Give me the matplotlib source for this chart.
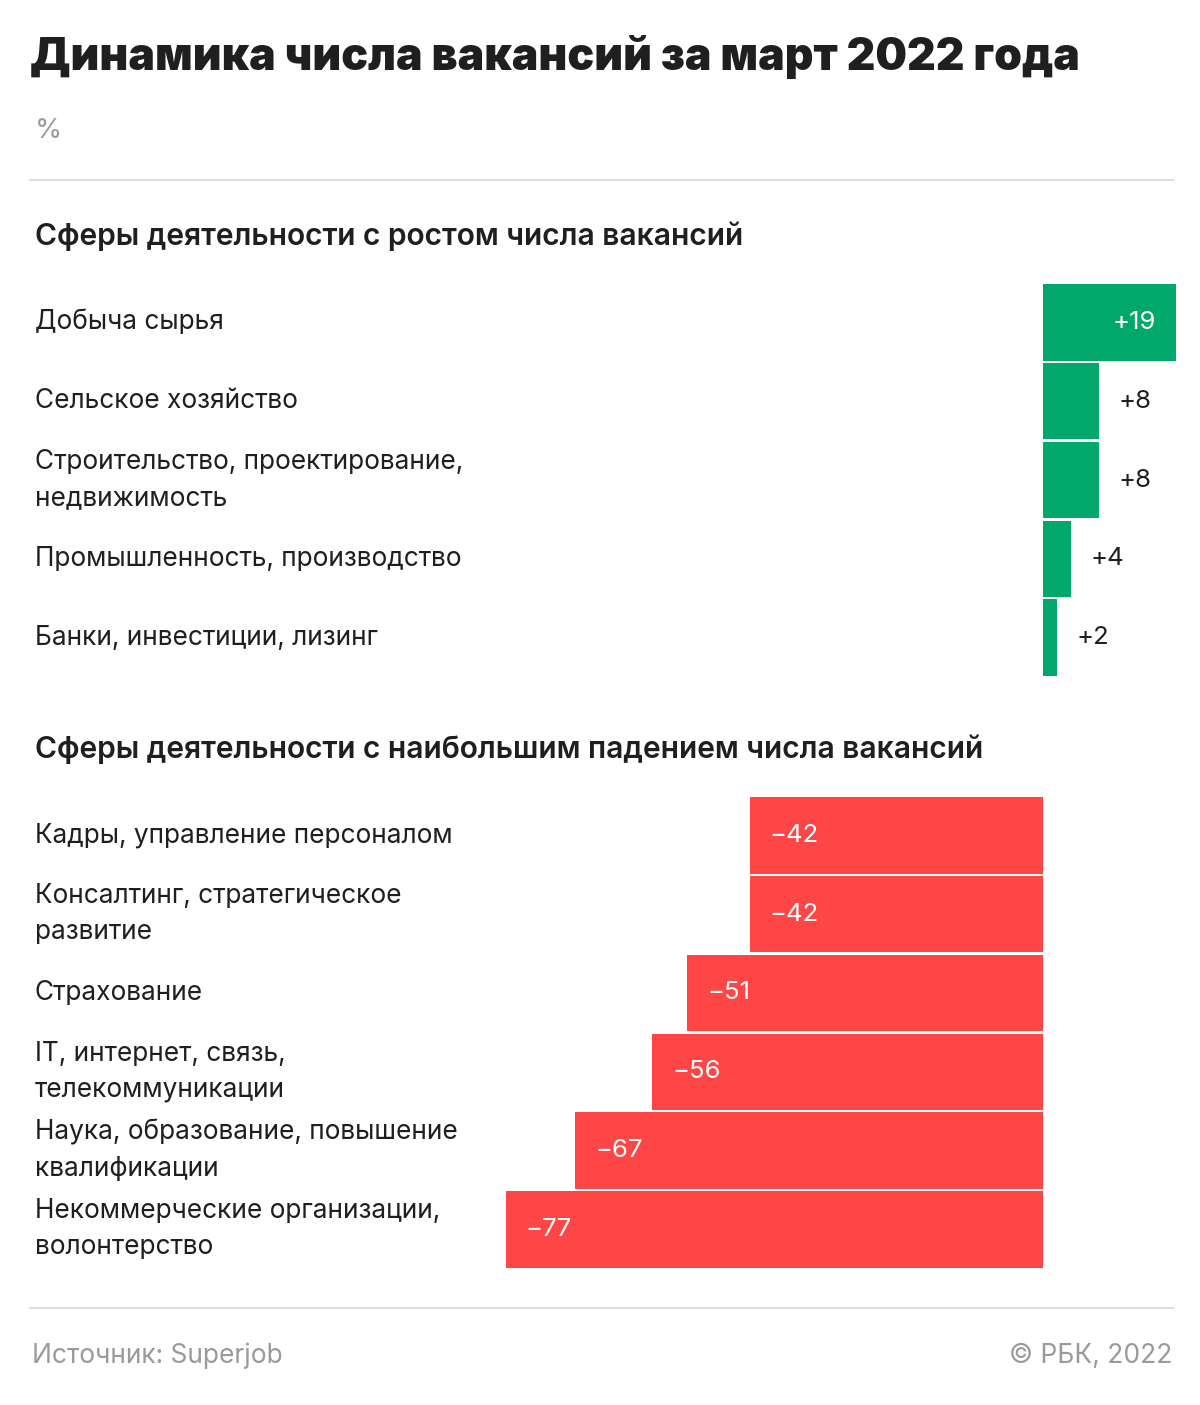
import matplotlib
matplotlib.use('Agg')
import matplotlib.pyplot as plt
from matplotlib.transforms import blended_transform_factory

# данные
up_labels = ['Добыча сырья', 'Сельское хозяйство',
             'Строительство, проектирование,\nнедвижимость',
             'Промышленность, производство', 'Банки, инвестиции, лизинг']
up_values = [19, 8, 8, 4, 2]
up_texts = ['+19', '+8', '+8', '+4', '+2']

down_labels = ['Кадры, управление персоналом',
               'Консалтинг, стратегическое\nразвитие',
               'Страхование',
               'IT, интернет, связь,\nтелекоммуникации',
               'Наука, образование, повышение\nквалификации',
               'Некоммерческие организации,\nволонтерство']
down_values = [-42, -42, -51, -56, -67, -77]
down_texts = ['\u221242', '\u221242', '\u221251', '\u221256', '\u221267', '\u221277']

GREEN = '#02a76b'
RED = '#ff4646'
DARK = '#1f1f1f'
GRAY = '#9a9a9a'

plt.rcParams['font.family'] = ['Inter', 'Roboto', 'DejaVu Sans']

W, H = 1200, 1405
fig = plt.figure(figsize=(W / 100, H / 100), dpi=100)
fig.patch.set_facecolor('white')

zero_px = 1043
px_per_unit = 6.98
row_px = 78.8
xlim = (-zero_px / px_per_unit, (W - zero_px) / px_per_unit)


def fy(px):
    return 1 - px / H


def fx(px):
    return px / W


def panel(top_px, labels, values, texts, color):
    n = len(values)
    ax = fig.add_axes([0, fy(top_px + n * row_px), 1, n * row_px / H])
    ax.set_xlim(*xlim)
    ax.set_ylim(n - 0.5, -0.5)
    ax.axis('off')
    ys = list(range(n))
    ax.barh(ys, values, height=0.97, color=color, linewidth=0)
    tr = blended_transform_factory(fig.transFigure, ax.transData)
    for y, lab in zip(ys, labels):
        ax.text(fx(35), y, lab, transform=tr, ha='left', va='center',
                fontsize=18.9, color=DARK, linespacing=1.5)
    off = 20 / px_per_unit
    for y, v, t in zip(ys, values, texts):
        if v < 0:
            ax.text(v + off, y, t, ha='left', va='center', fontsize=18.5, color='white')
        elif v > 10:
            ax.text(v - off, y, t, ha='right', va='center', fontsize=18.5, color='white')
        else:
            ax.text(v + 20 / px_per_unit, y, t, ha='left', va='center',
                    fontsize=18.5, color=DARK)
    return ax


panel(283, up_labels, up_values, up_texts, GREEN)
panel(796, down_labels, down_values, down_texts, RED)

# заголовки
fig.text(fx(30), fy(57), 'Динамика числа вакансий за март 2022 года',
         fontsize=32, fontweight='black', color=DARK, ha='left', va='center')
fig.text(fx(35), fy(131), '%', fontsize=20, color=GRAY, ha='left', va='center')
fig.text(fx(35), fy(236), 'Сферы деятельности с ростом числа вакансий',
         fontsize=21.6, fontweight='semibold', color=DARK, ha='left', va='center')
fig.text(fx(35), fy(749), 'Сферы деятельности с наибольшим падением числа вакансий',
         fontsize=21.6, fontweight='semibold', color=DARK, ha='left', va='center')

# линии
for y in (180, 1308):
    fig.add_artist(plt.Line2D([fx(30), fx(1173)], [fy(y), fy(y)],
                              color='#dddddd', linewidth=1.5))

fig.text(fx(32), fy(1356), 'Источник: Superjob', fontsize=19, color=GRAY,
         ha='left', va='center')
fig.text(fx(1172), fy(1356), '© РБК, 2022', fontsize=19, color=GRAY,
         ha='right', va='center')

fig.savefig('out.png', dpi=100, facecolor='white')
